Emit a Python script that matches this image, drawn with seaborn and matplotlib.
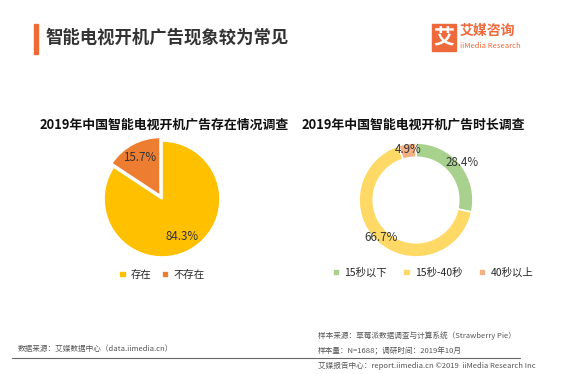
import matplotlib
matplotlib.use("Agg")
import matplotlib.pyplot as plt
from matplotlib.patches import Rectangle
from matplotlib.lines import Line2D
import seaborn as sns

# --- data ---
exist_labels = ['存在', '不存在']
exist_values = [84.3, 15.7]
exist_colors = ['#FFC000', '#ED7D31']

length_labels = ['15秒以下', '15秒-40秒', '40秒以上']
length_values = [28.4, 66.7, 4.9]
length_colors = ['#A9D18E', '#FFD966', '#F4B183']

main_title = '智能电视开机广告现象较为常见'
left_title = '2019年中国智能电视开机广告存在情况调查'
right_title = '2019年中国智能电视开机广告时长调查'

sns.set_theme(style="white")
plt.rcParams['font.family'] = ['Noto Sans CJK SC', 'DejaVu Sans']

W, H = 566, 374
fig = plt.figure(figsize=(W / 100, H / 100), dpi=100)
fig.patch.set_facecolor('white')


def fx(px):
    return px / W


def fy(py):
    return 1 - py / H


def pie_axes(cx, cy, r, pad=1.12):
    half = r * pad
    ax = fig.add_axes([fx(cx - half), fy(cy + half), 2 * half / W, 2 * half / H])
    ax.set_axis_off()
    return ax


def fix_limits(ax, pad=1.12):
    ax.set_xlim(-pad, pad)
    ax.set_ylim(-pad, pad)


# header
fig.add_artist(Rectangle((fx(34), fy(54)), 4 / W, 30 / H, color='#F06A35',
                         transform=fig.transFigure))
fig.text(fx(45), fy(38), main_title, fontsize=12.5, color='#333333',
         va='center', ha='left', fontweight='bold')
fig.add_artist(Rectangle((fx(432), fy(51)), 24 / W, 27 / H, color='#EE6A3C',
                         transform=fig.transFigure))
fig.text(fx(444), fy(37.5), '艾', fontsize=15, color='white', ha='center',
         va='center', fontweight='bold')
fig.text(fx(460), fy(31), '艾媒咨询', fontsize=10, color='#EE6A3C', ha='left',
         va='center', fontweight='bold')
fig.text(fx(460), fy(45.5), 'iiMedia Research', fontsize=5.5, color='#EE6A3C',
         ha='left', va='center')

# chart titles
fig.text(fx(164), fy(125), left_title, fontsize=9.3, color='#111111',
         ha='center', va='center', fontweight='bold')
fig.text(fx(413), fy(125), right_title, fontsize=9.3, color='#111111',
         ha='center', va='center', fontweight='bold')

# left pie
ax1 = pie_axes(162, 199, 58)
w1, t1, a1 = ax1.pie(exist_values, colors=exist_colors, startangle=90,
                     counterclock=False, explode=[0, 0.07],
                     autopct='%.1f%%', pctdistance=0.74,
                     wedgeprops=dict(edgecolor='white', linewidth=1.2),
                     textprops=dict(fontsize=8.3, color='#333333'))
fix_limits(ax1)
fig.legend(w1, exist_labels, loc='center', bbox_to_anchor=(fx(162), fy(275)),
           ncol=2, frameon=False, fontsize=7.5, handlelength=0.7,
           handleheight=0.7, handletextpad=0.4, columnspacing=1.0)

# right donut
ax2 = pie_axes(416, 200, 57)
w2, t2, a2 = ax2.pie(length_values, colors=length_colors, startangle=90,
                     counterclock=False, autopct='%.1f%%', pctdistance=0.9,
                     wedgeprops=dict(width=0.25, edgecolor='white', linewidth=1.2),
                     textprops=dict(fontsize=8.3, color='#333333'))
# first label sits a little outside the ring in the reference
px, py = a2[0].get_position()
a2[0].set_position((px * 1.15, py * 1.15))
fix_limits(ax2)
fig.legend(w2, length_labels, loc='center', bbox_to_anchor=(fx(433), fy(273)),
           ncol=3, frameon=False, fontsize=7.5, handlelength=0.7,
           handleheight=0.7, handletextpad=0.4, columnspacing=1.6)

# footer
foot = dict(fontsize=5.5, color='#555555', va='center', ha='left')
fig.text(fx(18), fy(349), '数据来源：艾媒数据中心（data.iimedia.cn）', **foot)
fig.text(fx(318), fy(336), '样本来源：草莓派数据调查与计算系统（Strawberry Pie）', **foot)
fig.text(fx(318), fy(351), '样本量：N=1688；调研时间：2019年10月', **foot)
fig.add_artist(Line2D([fx(12), fx(520)], [fy(358), fy(358)], color='#666666',
                      linewidth=0.8, transform=fig.transFigure))
fig.text(fx(318), fy(366), '艾媒报告中心：report.iimedia.cn ©2019  iiMedia Research Inc', **foot)

fig.savefig('out.png', dpi=100, facecolor='white')
